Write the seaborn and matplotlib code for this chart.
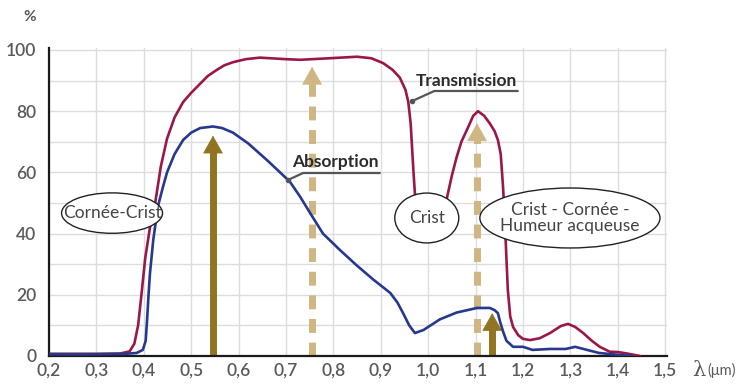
import numpy as np
import pandas as pd
import matplotlib
matplotlib.use("Agg")
import matplotlib.pyplot as plt
from matplotlib.patches import Ellipse
import seaborn as sns

# ---------------- data ----------------
trans_x = [0.20, 0.30, 0.35, 0.37, 0.38, 0.388, 0.395, 0.403, 0.413, 0.424, 0.436, 0.449,
           0.465, 0.483, 0.50, 0.519, 0.535, 0.554, 0.57, 0.588, 0.615, 0.645, 0.70, 0.73,
           0.78, 0.85, 0.88, 0.905, 0.925, 0.94, 0.952, 0.958, 0.963, 0.966, 0.969, 0.972,
           0.975, 0.99, 1.02, 1.035, 1.04, 1.05, 1.06, 1.07, 1.082, 1.095, 1.105, 1.118,
           1.13, 1.14, 1.147, 1.153, 1.158, 1.162, 1.165, 1.168, 1.173, 1.179, 1.19, 1.20,
           1.215, 1.235, 1.257, 1.28, 1.295, 1.31, 1.327, 1.345, 1.362, 1.383, 1.40, 1.42, 1.447]
trans_y = [0.7, 0.7, 0.8, 1.5, 4, 10, 20, 32, 42, 50, 62, 71,
           78, 83, 86, 89, 91.5, 93.5, 95, 96, 97, 97.5, 97, 96.8,
           97.2, 97.8, 97.3, 95.7, 93.5, 91, 87, 83, 76, 68, 60, 53,
           45, 40, 42, 48, 52, 59, 65, 70, 74, 78.5, 80, 78.5,
           76, 73.5, 70.6, 66, 55, 43, 32, 21.6, 13, 9.5, 6.8, 5.6,
           5.2, 5.8, 7.5, 9.8, 10.5, 9.5, 7.5, 5, 3, 1.4, 1.3, 0.8, 0]

abs_x = [0.20, 0.30, 0.36, 0.385, 0.398, 0.404, 0.407, 0.41, 0.413, 0.42, 0.43, 0.44,
         0.449, 0.465, 0.483, 0.50, 0.519, 0.546, 0.565, 0.588, 0.62, 0.66, 0.708, 0.73,
         0.751, 0.778, 0.814, 0.85, 0.884, 0.92, 0.935, 0.947, 0.96, 0.972, 0.99, 1.025,
         1.06, 1.103, 1.13, 1.14, 1.147, 1.152, 1.158, 1.165, 1.179, 1.20, 1.22, 1.257,
         1.29, 1.31, 1.335, 1.36, 1.40, 1.43]
abs_y = [0.6, 0.6, 0.7, 1, 2, 5, 12, 20, 27, 38, 49, 55,
         60, 66, 70.6, 73, 74.5, 75, 74.5, 73, 69.5, 64, 57, 52,
         46.7, 40, 34.6, 29.5, 25, 20.6, 17.5, 14, 10, 7.5, 8.5, 12,
         14.2, 15.7, 15.7, 15, 14, 11, 8, 5, 3, 3, 2, 2.3,
         2.3, 3, 2, 1, 0.4, 0]

# arrows: solid (absorbed) and dashed (transmitted) wavelengths
solid_arrow_x = [0.546, 1.135]
solid_arrow_top = [72, 14]
dashed_arrow_x = [0.755, 1.103]
dashed_arrow_top = [94.5, 76]

x_ticks = [0.2, 0.3, 0.4, 0.5, 0.6, 0.7, 0.8, 0.9, 1.0, 1.1, 1.2, 1.3, 1.4, 1.5]
x_tick_labels = ["0,2", "0,3", "0,4", "0,5", "0,6", "0,7", "0,8", "0,9", "1,0",
                 "1,1", "1,2", "1,3", "1,4", "1,5"]
y_ticks = [0, 20, 40, 60, 80, 100]
y_tick_labels = ["0", "20", "40", "60", "80", "100"]

zone_labels = ["Cornée-Crist", "Crist", "Crist - Cornée -\nHumeur acqueuse"]

# ---------------- style ----------------
sns.set_theme(style="white")
plt.rcParams["font.family"] = ["Lato", "DejaVu Sans"]

RED = "#9b1747"
BLUE = "#27388f"
GOLD = "#917321"
TAN = "#cfb682"
GRID = "#dddddd"
TICK = "#5a5a5a"

W, H = 750, 385
fig = plt.figure(figsize=(W / 100, H / 100), dpi=100)
ax = fig.add_axes([49 / W, 29 / H, (667 - 49) / W, (356 - 48) / H])

df_t = pd.DataFrame({"x": trans_x, "y": trans_y})
df_a = pd.DataFrame({"x": abs_x, "y": abs_y})

sns.lineplot(data=df_t, x="x", y="y", color=RED, lw=1.9, estimator=None, sort=False,
             ax=ax, zorder=3)
sns.lineplot(data=df_a, x="x", y="y", color=BLUE, lw=1.9, estimator=None, sort=False,
             ax=ax, zorder=3.1)

ax.set_xlim(0.2, 0.2 + 618 / 474)
ax.set_ylim(0, 100.65)

ax.set_xticks(x_ticks)
ax.set_xticklabels(x_tick_labels)
ax.set_yticks(y_ticks)
ax.set_yticklabels(y_tick_labels)
ax.set_yticks([10, 30, 50, 70, 90], minor=True)
ax.grid(which="both", color=GRID, lw=1.0)
ax.set_axisbelow(True)
ax.tick_params(which="both", length=0, labelsize=12.5, labelcolor=TICK)
ax.tick_params(axis="x", pad=5)
ax.tick_params(axis="y", pad=9)
for lbl in ax.get_xticklabels() + ax.get_yticklabels():
    lbl.set_fontweight("semibold")
ax.set_xlabel("")
ax.set_ylabel("")
for s in ["top", "right"]:
    ax.spines[s].set_visible(False)
for s in ["left", "bottom"]:
    ax.spines[s].set_color("#1a1a1a")
    ax.spines[s].set_linewidth(1.6)

# per-unit pixel sizes for arrow head placement
px_per_unit_y = 306 / 100.0
head_len_units = 16 / px_per_unit_y


def draw_arrow(x, top, color, dashed):
    base = top - head_len_units
    if dashed:
        ax.plot([x, x], [0, base], color=color, lw=5, dashes=(2.0, 1.4),
                solid_capstyle="butt", dash_capstyle="butt", zorder=2.5)
    else:
        ax.plot([x, x], [0, base + 0.5], color=color, lw=5, solid_capstyle="butt", zorder=2.5)
    ax.annotate("", xy=(x, top), xytext=(x, base),
                arrowprops=dict(arrowstyle="-|>,head_length=0.8,head_width=0.45",
                                color=color, lw=0.5, shrinkA=0, shrinkB=0,
                                mutation_scale=15),
                zorder=2.6)


for x, t in zip(solid_arrow_x, solid_arrow_top):
    draw_arrow(x, t, GOLD, False)
for x, t in zip(dashed_arrow_x, dashed_arrow_top):
    draw_arrow(x, t, TAN, True)

# zone ellipses
ell_specs = [((0.333, 46.7), 0.213, 13.2),
             ((0.997, 45.1), 0.135, 16.3),
             ((1.299, 45.1), 0.38, 19.6)]
for (c, w, h), lab in zip(ell_specs, zone_labels):
    ax.add_patch(Ellipse(c, w, h, facecolor="white", edgecolor="#222222", lw=1.0, zorder=5))
    ax.text(c[0], c[1], lab, ha="center", va="center", fontsize=12.5, color="#444444",
            linespacing=0.95, zorder=6)

# series labels with leader lines
LEAD = "#555555"
ax.text(1.080, 89.9, "Transmission", ha="center", va="center", fontsize=12.5,
        fontweight="bold", color="#2b2b2b", zorder=6)
ax.plot([0.966, 1.013, 1.189], [83.3, 86.6, 86.6], color=LEAD, lw=1.6, zorder=6)
ax.plot([0.966], [83.3], "o", color=LEAD, ms=3, zorder=6)

ax.text(0.805, 63.4, "Absorption", ha="center", va="center", fontsize=12.5,
        fontweight="bold", color="#2b2b2b", zorder=6)
ax.plot([0.704, 0.736, 0.898], [57.5, 59.8, 59.8], color=LEAD, lw=1.6, zorder=6)
ax.plot([0.704], [57.5], "o", color=LEAD, ms=3, zorder=6)

# axis titles
fig.text(30 / W, 1 - 17 / H, "%", ha="center", va="center", fontsize=11,
         fontweight="bold", color=TICK)
fig.text(692 / W, 1 - 370 / H, "λ", ha="left", va="center", fontsize=15,
         color=TICK, family=["DejaVu Serif"])
fig.text(707 / W, 1 - 370 / H, "(μm)", ha="left", va="center", fontsize=10.5,
         color=TICK, family=["Lato", "DejaVu Sans"])

fig.savefig("out.png", dpi=100)
